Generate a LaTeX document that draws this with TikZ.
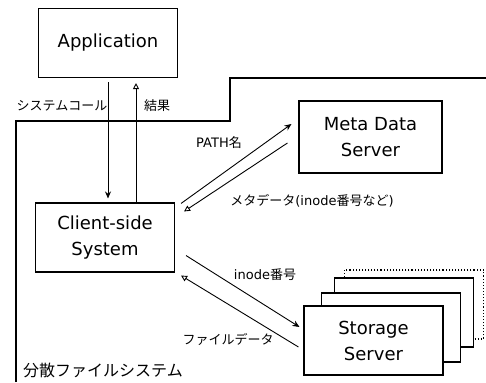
\documentclass[tikz,border=0pt]{standalone}
\usepackage{fontspec}
\setmainfont{DejaVu Sans}
\newfontfamily\jp{Noto Sans CJK JP}
\usetikzlibrary{positioning,arrows.meta}

\begin{document}
\begin{tikzpicture}[
  x=1pt, y=-1pt,
  box/.style={draw, line width=1.1pt, fill=white, align=center, inner sep=0pt,
    minimum width=139pt, minimum height=69pt, font=\fontsize{18}{26}\selectfont},
  lbl/.style={inner sep=0pt, font=\fontsize{13}{15}\selectfont},
  req/.style={-{Stealth[length=7pt,width=6pt]}, line width=0.9pt},
  res/.style={-{Triangle[open,length=6pt,width=6pt]}, line width=0.9pt}
]
\useasboundingbox (0,0) rectangle (486,382);

% distributed fs boundary
\draw[line width=1.1pt] (16,382) -- (16,121) -- (230,121) -- (230,78) -- (486,78);

\node[box] (app) at (108,43) {Application};
\node[box] (client) at (105,237.5) {Client-side\\System};
\node[box, minimum width=143pt, minimum height=72pt] (meta) at (370.5,137) {Meta Data\\Server};

% storage server stack
\node[box, dotted, line width=1.3pt] (st4) at (414,304.5) {};
\node[box] (st3) at (404,312.5) {};
\node[box] (st2) at (391,327.5) {};
\node[box] (st) at (373.5,340.5) {Storage\\Server};

% app <-> client
\draw[req] ([yshift=-4pt]app.south) -- ([yshift=4pt]client.north -| app.south);
\draw[res] ([xshift=28pt]app.south |- client.north) -- ([xshift=28pt,yshift=-5pt]app.south);
\node[lbl] (call) at (62,106) {\jp システムコール};
\node[lbl] (ret) at (157,106) {\jp 結果};

% client <-> meta
\draw[req] ([xshift=6pt,yshift=-1pt]client.north east) -- ([xshift=-7pt,yshift=13pt]meta.west);
\draw[res] ([xshift=-11pt,yshift=-6pt]meta.west) -- ([xshift=9pt,yshift=-9pt]client.north east);
\node[lbl] (path) at (219,143) {PATH{\jp 名}};
\node[lbl] (md) at (312,201) {{\jp メタデータ}(inode{\jp 番号など})};

% client <-> storage
\draw[req] ([xshift=11pt,yshift=17pt]client.south east) -- ([xshift=-4pt,yshift=13.5pt]st.west);
\draw[res] ([xshift=-5pt,yshift=-6.5pt]st.west) -- ([xshift=6pt,yshift=-3pt]client.south east);
\node[lbl] (ino) at (265,275) {inode{\jp 番号}};
\node[lbl] (fd) at (228,339) {\jp ファイルデータ};

\node[lbl, font=\fontsize{16}{18}\selectfont] (dfs) at (103,370) {\jp 分散ファイルシステム};
\end{tikzpicture}
\end{document}
